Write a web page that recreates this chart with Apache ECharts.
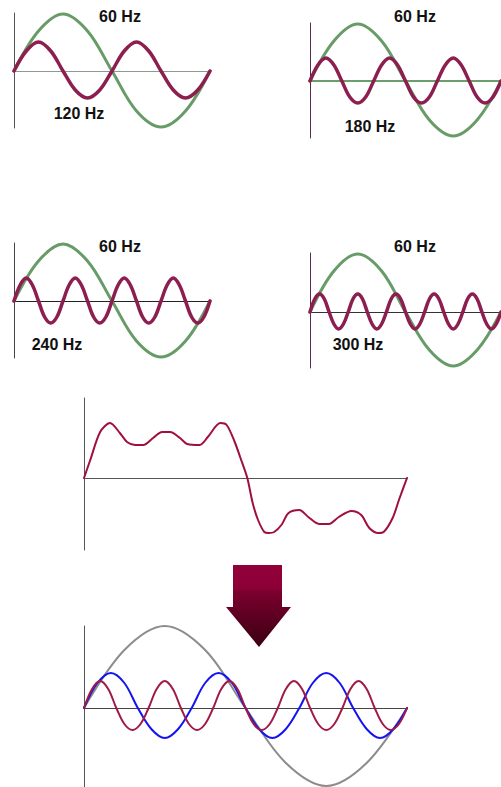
<!DOCTYPE html>
<html>
<head>
<meta charset="utf-8">
<script src="https://cdn.jsdelivr.net/npm/echarts@6/dist/echarts.min.js"></script>
<style>
  html, body { margin: 0; padding: 0; background: #ffffff; }
  #chart { width: 501px; height: 787px; }
</style>
</head>
<body>
<div id="chart"></div>
<script>
// Sample positions, in degrees of one 60 Hz cycle
const phase8 = [0, 45, 90, 135, 180, 225, 270, 315, 360];
const phase16 = [0, 22.5, 45, 67.5, 90, 112.5, 135, 157.5, 180, 202.5, 225, 247.5, 270, 292.5, 315, 337.5, 360];
const phase24 = [0, 15, 30, 45, 60, 75, 90, 105, 120, 135, 150, 165, 180, 195, 210, 225, 240, 255, 270, 285, 300, 315, 330, 345, 360];
const phase32 = [0, 11.25, 22.5, 33.75, 45, 56.25, 67.5, 78.75, 90, 101.25, 112.5, 123.75, 135, 146.25, 157.5, 168.75, 180,
  191.25, 202.5, 213.75, 225, 236.25, 247.5, 258.75, 270, 281.25, 292.5, 303.75, 315, 326.25, 337.5, 348.75, 360];
const phase40 = [0, 9, 18, 27, 36, 45, 54, 63, 72, 81, 90, 99, 108, 117, 126, 135, 144, 153, 162, 171, 180,
  189, 198, 207, 216, 225, 234, 243, 252, 261, 270, 279, 288, 297, 306, 315, 324, 333, 342, 351, 360];

// 60 Hz + 120 Hz
const p1Fund = [0, 40, 57, 40, 0, -40, -56, -40, 0];
const p1Harm = [0, 20, 29, 20, 0, -19, -27, -19, 0, 20, 29, 20, 0, -19, -27, -19, 0];
// 60 Hz + 180 Hz
const p2Fund = [0, 40, 57, 40, 0, -39, -55, -39, 0];
const p2Harm = [0, 16, 23, 16, 0, -16, -22, -16, 0, 16, 23, 16, 0, -16, -22, -16, 0, 16, 23, 16, 0, -16, -22, -16, 0];
// 60 Hz + 240 Hz
const p3Fund = [0, 40, 57, 40, 0, -40, -56, -40, 0];
const p3Harm = [0, 16, 23, 16, 0, -16, -22, -16, 0, 16, 23, 16, 0, -16, -22, -16, 0, 16, 23, 16, 0, -16, -22, -16,
  0, 16, 23, 16, 0, -16, -22, -16, 0];
// 60 Hz + 300 Hz
const p4Fund = [0, 41, 58, 41, 0, -38, -54, -38, 0];
const p4Harm = [0, 13, 18, 13, 0, -12, -17, -12, 0, 13, 18, 13, 0, -12, -17, -12, 0, 13, 18, 13, 0, -12, -17, -12,
  0, 13, 18, 13, 0, -12, -17, -12, 0, 13, 18, 13, 0, -12, -17, -12, 0];

// Combined waveform
const sumX = [0, 7, 18, 29, 40, 48, 57, 66, 77, 87, 96, 107, 115, 129, 138, 152, 159, 168, 174, 182,
  188, 194, 201, 206, 212, 220, 228, 240, 250, 262, 273, 284, 298, 309, 318, 328, 334, 344, 351, 360];
const sumY = [0, 18, 46, 55, 45, 36, 33, 33, 40, 46, 46, 40, 34, 33, 41, 55, 53, 36, 21, 0,
  -25, -42, -54, -55, -54, -47, -35, -32, -39, -46, -46, -39, -33, -37, -50, -55, -54, -40, -22, 0];

// Components: fundamental, 3rd and 5th harmonic
const baseFund = [0, 58, 82, 58, 0, -55, -78, -55, 0];
const thirdHarm = [0, 25, 35, 25, 0, -21, -30, -21, 0, 25, 35, 25, 0, -21, -30, -21, 0, 25, 35, 25, 0, -21, -30, -21, 0];
const fifthHarm = [0, 19, 27, 19, 0, -16, -22, -16, 0, 19, 27, 19, 0, -16, -22, -16, 0, 19, 27, 19, 0, -16, -22, -16,
  0, 19, 27, 19, 0, -16, -22, -16, 0, 19, 27, 19, 0, -16, -22, -16, 0];

const labels = [
  ['60 Hz', 120, 16], ['120 Hz', 79, 113],
  ['60 Hz', 415, 16], ['180 Hz', 370, 126],
  ['60 Hz', 120, 246], ['240 Hz', 57, 344],
  ['60 Hz', 415, 246], ['300 Hz', 358, 344]
];

const GREEN = '#679b67';
const PLUM = '#8c1f50';

const pairs = (xs, ys) => xs.map((x, i) => [x, ys[i]]);

const panels = [
  { left: 14, top: 13, width: 196, max: 58, min: -57, yColor: '#555555', xColor: '#8f998f', xWidth: 1,
    lines: [[phase8, p1Fund, GREEN, 3], [phase16, p1Harm, PLUM, 3.5]] },
  { left: 310, top: 23, width: 198, max: 58, min: -57, yColor: '#5a2a4a', xColor: '#6a9e6a', xWidth: 2,
    lines: [[phase8, p2Fund, GREEN, 3], [phase24, p2Harm, PLUM, 3.5]] },
  { left: 14, top: 243, width: 196, max: 58, min: -57, yColor: '#444444', xColor: '#222222', xWidth: 1,
    lines: [[phase8, p3Fund, GREEN, 3], [phase32, p3Harm, PLUM, 3.5]] },
  { left: 310, top: 253, width: 198, max: 59, min: -56, yColor: '#5a2a4a', xColor: '#333333', xWidth: 1,
    lines: [[phase8, p4Fund, GREEN, 3], [phase40, p4Harm, PLUM, 3.5]] },
  { left: 84, top: 398, width: 323, max: 80, min: -72, yColor: '#555555', xColor: '#555555', xWidth: 1,
    lines: [[sumX, sumY, '#a0103c', 2, 0.3]] },
  { left: 84, top: 626, width: 323, max: 82, min: -79, yColor: '#555555', xColor: '#444444', xWidth: 1,
    lines: [[phase8, baseFund, '#8c8c8c', 2], [phase24, thirdHarm, '#1414f0', 2], [phase40, fifthHarm, '#a01a45', 2]] }
];

const grid = [], xAxis = [], yAxis = [], series = [];
panels.forEach((p, i) => {
  grid.push({ left: p.left, top: p.top, width: p.width, height: p.max - p.min });
  xAxis.push({
    type: 'value', gridIndex: i, min: 0, max: 360,
    axisLine: { show: true, onZero: true, lineStyle: { color: p.xColor, width: p.xWidth } },
    axisTick: { show: false }, axisLabel: { show: false }, splitLine: { show: false }
  });
  yAxis.push({
    type: 'value', gridIndex: i, min: p.min, max: p.max,
    axisLine: { show: true, lineStyle: { color: p.yColor, width: 1 } },
    axisTick: { show: false }, axisLabel: { show: false }, splitLine: { show: false }
  });
  p.lines.forEach(([xs, ys, color, width, smooth]) => {
    series.push({
      type: 'line', xAxisIndex: i, yAxisIndex: i,
      data: pairs(xs, ys),
      smooth: smooth !== undefined ? smooth : 0.35,
      showSymbol: false, clip: false, silent: true,
      lineStyle: { color, width, cap: 'round', join: 'round' }
    });
  });
});

const graphic = labels.map(([text, x, y]) => ({
  type: 'text', x, y, silent: true,
  style: { text, fill: '#111111', font: 'bold 16px "Liberation Sans", Arial, sans-serif', align: 'center', verticalAlign: 'middle' }
}));

// Downward arrow between the combined wave and its components
graphic.push({
  type: 'polygon', silent: true,
  shape: { points: [[233, 565], [282, 565], [282, 607], [291, 607], [259, 647], [226, 607], [233, 607]] },
  style: {
    fill: new echarts.graphic.LinearGradient(0, 0, 0, 1, [
      { offset: 0, color: '#92003a' },
      { offset: 0.3, color: '#8c0036' },
      { offset: 0.31, color: '#7c002e' },
      { offset: 1, color: '#3a0012' }
    ])
  }
});

const chart = echarts.init(document.getElementById('chart'), null, { renderer: 'svg' });
chart.setOption({
  backgroundColor: '#ffffff',
  animation: false,
  grid, xAxis, yAxis, series, graphic
});
</script>
</body>
</html>
